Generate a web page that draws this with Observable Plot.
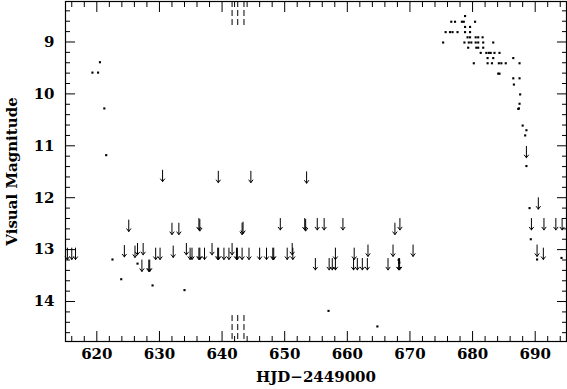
<!DOCTYPE html>
<html><head><meta charset="utf-8">
<script src="https://cdn.jsdelivr.net/npm/d3@7"></script>
<script src="https://cdn.jsdelivr.net/npm/@observablehq/plot@0.6"></script>
<style>
html,body{margin:0;padding:0;background:#fff;}
#chart svg{display:block;}
</style></head><body><div id="chart"></div>
<script>
// Detections (visual magnitudes)
const detX = [
  619.3, 620.2, 620.5, 621.2, 621.5, 622.5, 623.9, 626.5, 628.9, 634.0, 657.0, 664.8, 668.2, 668.3,
  688.6, 689.1, 689.3, 690.3, 694.2,
  678.8,
  676.6, 677.2, 678.3, 678.6, 680.4,
  678.8, 679.6,
  675.7, 676.4, 676.8, 677.6, 678.8, 679.6,
  679.2, 679.6, 680.5, 680.9, 681.6,
  675.3, 678.7, 679.4, 679.8, 680.5, 680.9, 681.7, 683.3,
  679.3, 680.6, 680.9, 681.7,
  681.3, 682.2, 682.6, 682.9, 683.5, 684.3,
  682.4, 683.3, 686.5,
  680.2, 682.4, 683.1, 684.2, 684.6, 685.3, 687.5,
  684.1, 684.3,
  686.5, 687.5,
  686.6, 687.6, 687.5, 687.4, 687.3, 688.0, 688.6, 688.4
];
const detMag = [
  9.59, 9.59, 9.39, 10.28, 11.18, 13.19, 13.57, 13.27, 13.69, 13.78, 14.18, 14.48, 13.20, 13.25,
  11.39, 12.20, 12.80, 13.19, 13.16,
  8.50,
  8.61, 8.61, 8.61, 8.61, 8.61,
  8.71, 8.71,
  8.81, 8.81, 8.81, 8.81, 8.81, 8.81,
  8.91, 8.91, 8.91, 8.91, 8.91,
  9.01, 9.01, 9.01, 9.01, 9.01, 9.01, 9.01, 9.01,
  9.11, 9.11, 9.11, 9.11,
  9.21, 9.21, 9.21, 9.21, 9.21, 9.21,
  9.31, 9.31, 9.31,
  9.41, 9.41, 9.41, 9.41, 9.41, 9.41, 9.41,
  9.61, 9.61,
  9.70, 9.70,
  9.82, 10.01, 10.19, 10.28, 10.29, 10.61, 10.70, 10.80
];
// Upper limits (fainter than)
const limX = [
  630.5, 639.4, 644.6, 653.5,
  688.6, 690.5,
  625.1, 632.0, 633.1, 636.3, 636.45, 643.2, 643.35, 649.3, 653.2, 653.35, 655.2, 656.3, 659.3, 667.6, 668.4,
  689.4, 691.4, 693.3, 694.3,
  615.3, 616.0, 616.6, 624.4, 626.1, 626.5, 627.4, 629.4, 630.1, 632.2,
  634.3, 634.9, 635.2, 636.3, 636.45, 637.2, 638.4, 639.3, 639.45, 640.3, 641.1, 641.6,
  642.3, 642.45, 643.2, 644.3, 646.0, 647.1, 648.1, 648.25, 650.4, 651.2, 651.3,
  658.1, 661.1, 663.3, 667.3, 670.5, 690.3, 691.3,
  627.2, 628.3, 628.45, 654.9, 657.1, 657.6, 658.1, 661.0, 661.6, 662.4, 663.2, 666.5, 668.2, 668.35
];
const limMag = [
  11.47, 11.49, 11.49, 11.50,
  11.01, 12.00,
  12.43, 12.49, 12.49, 12.40, 12.42, 12.49, 12.47, 12.40, 12.40, 12.42, 12.40, 12.40, 12.40, 12.49, 12.40,
  12.40, 12.40, 12.40, 12.40,
  12.97, 12.97, 12.97, 12.92, 12.93, 12.88, 12.88, 12.97, 12.97, 12.93,
  12.88, 12.97, 12.97, 12.97, 12.97, 12.97, 12.88, 12.97, 12.97, 12.97, 12.97, 12.88,
  12.97, 12.97, 12.97, 12.97, 12.97, 12.97, 12.97, 12.97, 12.97, 12.88, 12.97,
  12.97, 12.97, 12.91, 12.91, 12.91, 12.91, 12.97,
  13.20, 13.20, 13.20, 13.17, 13.17, 13.17, 13.17, 13.17, 13.17, 13.17, 13.17, 13.17, 13.17, 13.17
];
// dashed markers
const dashX = [641.6, 642.5, 643.5];
const dashTopMag = [8.22, 8.72];
const dashBottomMag = [14.27, 14.77];

const xDomain = [615, 695];
const yDomain = [8.22, 14.77];
const xMajor = [620, 630, 640, 650, 660, 670, 680, 690];
const xMinor = [616, 618, 622, 624, 626, 628, 632, 634, 636, 638, 642, 644, 646, 648, 652, 654, 656, 658, 662, 664, 666, 668, 672, 674, 676, 678, 682, 684, 686, 688, 692, 694];
const yMajor = [9, 10, 11, 12, 13, 14];
const yMinor = [8.4, 8.6, 8.8, 9.2, 9.4, 9.6, 9.8, 10.2, 10.4, 10.6, 10.8, 11.2, 11.4, 11.6, 11.8, 12.2, 12.4, 12.6, 12.8, 13.2, 13.4, 13.6, 13.8, 14.2, 14.4, 14.6];
const xTitle = "HJD\u22122449000";
const yTitle = "Visual Magnitude";

const dets = detX.map((x, i) => ({x, m: detMag[i]}));
const lims = limX.map((x, i) => ({x, m: limMag[i]}));
const arrowLen = 0.22;
const dashes = dashX.flatMap(x => [{x, y1: dashTopMag[0], y2: dashTopMag[1]}, {x, y1: dashBottomMag[0], y2: dashBottomMag[1]}]);

const tickOnly = {tickFormat: null, fill: "none", label: null};
const chart = Plot.plot({
  width: 567, height: 389,
  marginLeft: 65, marginRight: 1, marginTop: 1, marginBottom: 48,
  style: {fontFamily: "'DejaVu Serif', serif", fontSize: "15px", fontWeight: "bold", background: "#fff", color: "#000"},
  x: {domain: xDomain, axis: null},
  y: {domain: yDomain, reverse: true, axis: null},
  marks: [
    Plot.frame({stroke: "black", strokeWidth: 1.2}),
    Plot.axisX(xMajor, {anchor: "bottom", tickSize: -10, tickPadding: 17, label: null, tickFormat: d => String(d)}),
    Plot.axisX(xMinor, {anchor: "bottom", tickSize: -5, ...tickOnly}),
    Plot.axisX(xMajor, {anchor: "top", tickSize: -10, ...tickOnly}),
    Plot.axisX(xMinor, {anchor: "top", tickSize: -5, ...tickOnly}),
    Plot.axisY(yMajor, {anchor: "left", tickSize: -10, tickPadding: 21, label: null, tickFormat: d => String(d)}),
    Plot.axisY(yMinor, {anchor: "left", tickSize: -5, ...tickOnly}),
    Plot.axisY(yMajor, {anchor: "right", tickSize: -10, ...tickOnly}),
    Plot.axisY(yMinor, {anchor: "right", tickSize: -5, ...tickOnly}),
    Plot.ruleX(dashes, {x: "x", y1: "y1", y2: "y2", stroke: "black", strokeDasharray: "6,3", strokeWidth: 1}),
    Plot.arrow(lims, {x: "x", y1: "m", y2: d => d.m + arrowLen, stroke: "black", strokeWidth: 1, headLength: 5, headAngle: 75}),
    Plot.dot(dets, {x: "x", y: "m", symbol: "square", r: 1.2, fill: "black", stroke: null}),
    Plot.text([xTitle], {frameAnchor: "bottom", dy: 40, text: d => d, fill: "black"}),
    Plot.text([yTitle], {frameAnchor: "left", dx: -53, rotate: -90, textAnchor: "middle", text: d => d, fill: "black"})
  ]
});
document.getElementById("chart").appendChild(chart);
</script></body></html>
